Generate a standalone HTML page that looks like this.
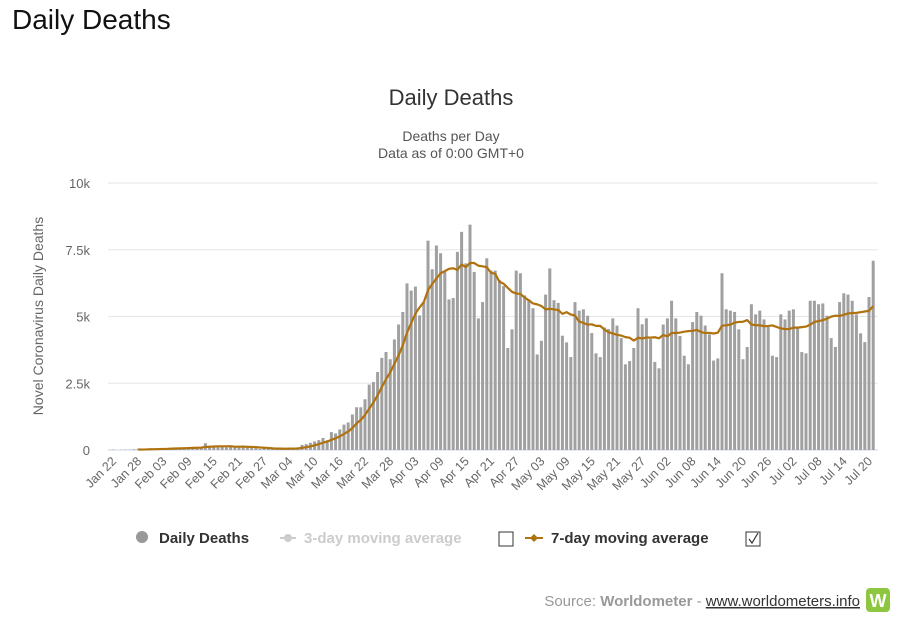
<!DOCTYPE html>
<html><head><meta charset="utf-8"><style>
body{margin:0;background:#fff;width:900px;height:624px;overflow:hidden;font-family:"Liberation Sans",sans-serif}
</style></head><body>
<div style="position:absolute;left:12px;top:4px;font-size:28px;color:#111">Daily Deaths</div>
<svg id="chart" width="900" height="624" style="position:absolute;left:0;top:0" font-family="Liberation Sans, sans-serif">
<text x="451" y="105" text-anchor="middle" font-size="22" fill="#333">Daily Deaths</text>
<text x="451" y="141" text-anchor="middle" font-size="14" fill="#555">Deaths per Day</text>
<text x="451" y="158" text-anchor="middle" font-size="14" fill="#555">Data as of 0:00 GMT+0</text>
<text transform="translate(43,316) rotate(-90)" text-anchor="middle" font-size="14" fill="#666">Novel Coronavirus Daily Deaths</text>
<g id="grid"></g><g id="bars"></g><g id="ma"></g><g id="xlabels"></g>
<g font-size="15" font-weight="bold">
<g><circle cx="142" cy="537" r="6" fill="#999"/><text x="159" y="543" fill="#333">Daily Deaths</text></g>
<g><line x1="280" y1="538" x2="296" y2="538" stroke="#ccc" stroke-width="2"/><circle cx="288" cy="538" r="4" fill="#ccc"/><text x="304" y="543" fill="#ccc">3-day moving average</text></g>
<rect x="499" y="532" width="14" height="14" fill="#fff" stroke="#333"/>
<g><line x1="525" y1="538" x2="543" y2="538" stroke="#b0720e" stroke-width="2"/><path d="M534 534 L538 538 L534 542 L530 538Z" fill="#b0720e"/><text x="551" y="543" fill="#333">7-day moving average</text></g>
<rect x="746" y="532" width="14" height="14" fill="#fff" stroke="#333"/>
<path d="M749 539 L752 543 L758 533" stroke="#333" fill="none" stroke-width="1.2"/>
</g>
<text x="860" y="606" text-anchor="end" font-size="15" fill="#999">Source: <tspan font-weight="bold">Worldometer</tspan> - <tspan fill="#333" text-decoration="underline">www.worldometers.info</tspan></text>
<g><rect x="866" y="588" width="24" height="24" rx="4" fill="#8dc63f"/><text x="878" y="607" text-anchor="middle" font-size="18" font-weight="bold" fill="#fff">W</text></g>
</svg>
<script>
const startDate = [2020,0,22];
const deaths = [0.017,0,0.008,0.016,0.014,0.026,0.049,0.002,0.038,0.043,
0.046,0.045,0.057,0.064,0.066,0.073,0.073,0.086,0.089,0.097,
0.108,0.097,0.254,0.121,0.143,0.142,0.106,0.098,0.139,0.115,
0.125,0.151,0.097,0.071,0.064,0.037,0.063,0.057,0.035,0.042,
0.064,0.037,0.058,0.068,0.099,
0.19,0.22,0.27,0.32,0.37,0.45,0.37,0.67,0.62,0.77,
0.95,1.03,1.33,1.6,1.6,1.9,2.45,2.55,2.92,3.45,
3.67,3.4,4.14,4.7,5.17,6.24,5.97,6.12,5.04,5.54,
7.84,6.77,7.66,7.37,6.68,5.64,5.69,7.42,8.17,6.99,8.44,
6.67,4.93,5.54,7.18,6.72,6.72,6.37,6.14,3.82,4.52,
6.72,6.62,5.79,5.64,5.31,3.58,4.09,5.82,6.80,5.61,
5.51,4.28,4.03,3.48,5.54,5.22,5.27,5.03,4.38,3.62,
3.48,4.59,4.53,4.93,4.66,4.19,3.21,3.33,3.82,5.31,
4.71,4.93,4.16,3.30,3.06,4.70,4.93,5.59,4.93,
4.27,3.53,3.21,4.79,5.17,5.03,4.66,4.33,3.35,3.43,
6.62,5.27,5.22,5.17,4.52,3.40,3.86,5.46,5.08,5.22,
4.89,4.61,3.53,3.48,5.08,4.89,5.22,5.27,4.61,3.67,
3.62,5.59,5.59,5.46,5.49,5.03,4.19,3.86,5.54,5.87,
5.82,5.59,5.08,4.37,4.04,5.73,7.09];
const yTicks = [0,2.5,5,7.5,10];
const yTickLabels = ["0","2.5k","5k","7.5k","10k"];
const tickEvery = 6;

const NS="http://www.w3.org/2000/svg";
const x0=113, dx=4.2, yBase=450, yTop=183;
const xS=i=>x0+i*dx;
const yS=v=>yBase-(v/10)*(yBase-yTop);
function mk(t,a){const e=document.createElementNS(NS,t);for(const k in a)e.setAttribute(k,a[k]);return e;}
const grid=document.getElementById('grid');
yTicks.forEach((v,k)=>{
  const l=mk('line',{x1:108,x2:878,y1:yS(v),y2:yS(v),stroke:v===0?'#ccd6eb':'#e6e6e6'});
  
  
  grid.appendChild(l);
  const t=mk('text',{x:90,y:yS(v)+5,'text-anchor':'end','font-size':13,fill:'#666'});
  t.textContent=yTickLabels[k];
  
  
  grid.appendChild(t);
});
const bars=document.getElementById('bars');
deaths.forEach((v,i)=>{
  const r=mk('rect',{x:xS(i)-1.5,y:yS(v),width:3,height:yBase-yS(v),fill:'#a0a0a0'});
  
  
  bars.appendChild(r);
});
let pts=[];
for(let i=6;i<deaths.length;i++){let s=0;for(let j=i-6;j<=i;j++)s+=deaths[j];pts.push(xS(i)+','+yS(s/7));}
const ma=mk('polyline',{points:pts.join(' '),fill:'none',stroke:'#b0720e','stroke-width':2.2,'stroke-linejoin':'round'});


document.getElementById('ma').appendChild(ma);
const mon=["Jan","Feb","Mar","Apr","May","Jun","Jul","Aug"];
const xl=document.getElementById('xlabels');
for(let i=0;i<deaths.length;i+=tickEvery){
  const d=new Date(startDate[0],startDate[1],startDate[2]+i);
  const lbl=mon[d.getMonth()]+' '+String(d.getDate()).padStart(2,'0');
  const x=xS(i)+4,y=462;
  const t=mk('text',{x:x,y:y,'text-anchor':'end','font-size':12.5,fill:'#666',transform:`rotate(-45 ${x} ${y})`});
  t.textContent=lbl;
  
  
  xl.appendChild(t);
}
</script>
</body></html>
